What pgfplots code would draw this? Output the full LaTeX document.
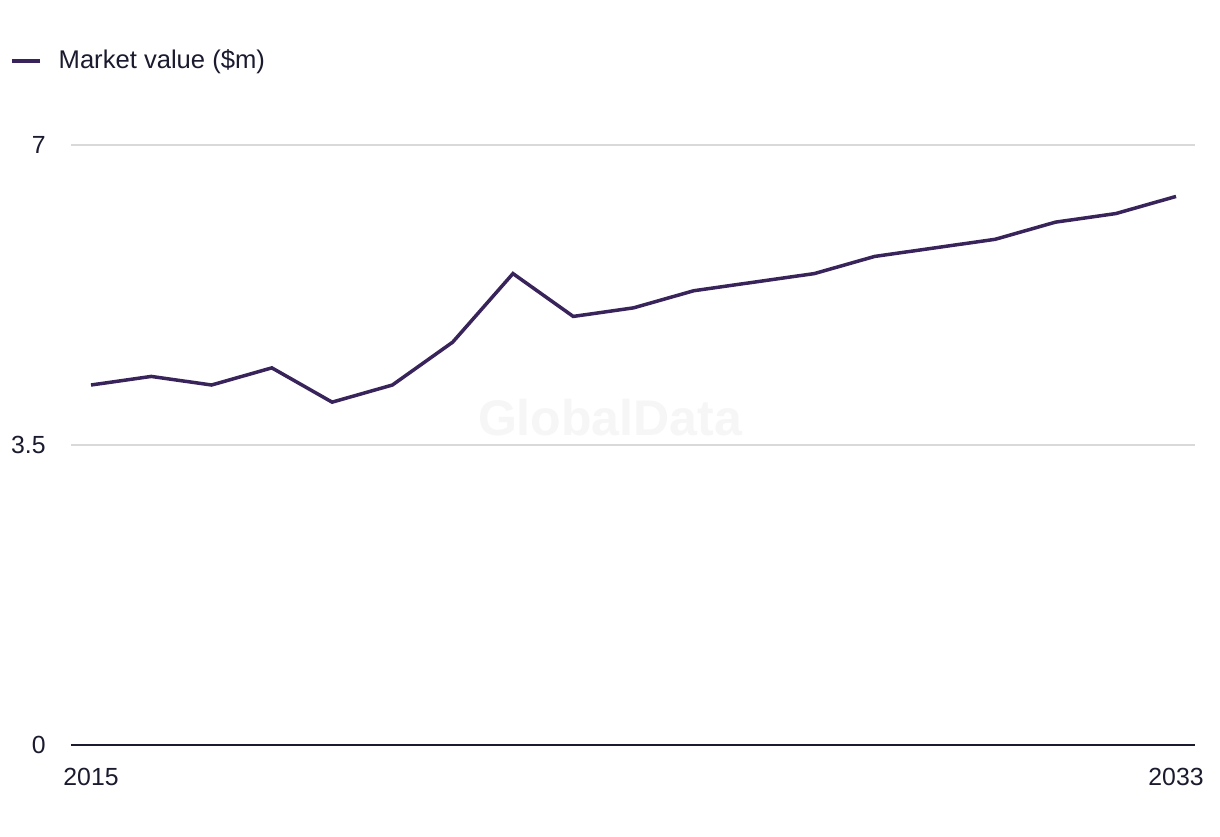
\documentclass[border=0pt]{standalone}
\usepackage{pgfplots}
\pgfplotsset{compat=1.18}
\usepackage{fontspec}
\setmainfont{Liberation Sans}
\definecolor{linec}{HTML}{38245A}
\definecolor{textc}{HTML}{1B1B2F}
\definecolor{gridc}{HTML}{D9D9D9}
\definecolor{wmark}{HTML}{F6F6F6}
\begin{document}
\fontsize{12.4}{15}\selectfont
\begin{tikzpicture}[x=1pt,y=1pt]
\path[fill=white] (0,0) rectangle (610,418);
\begin{axis}[
  at={(35.5pt,45.5pt)}, anchor=south west,
  scale only axis, width=562pt, height=300pt,
  xmin=2014.668, xmax=2033.315,
  ymin=0, ymax=7,
  axis line style={draw=none},
  axis x line*=bottom,
  xtick={2015,2033},
  xticklabels={2015,2033},
  ytick={0,3.5,7},
  yticklabels={0,3.5,7},
  major tick length=0pt,
  ymajorgrids,
  grid style={gridc, line width=1pt},
  tick label style={text=textc, font=\fontsize{12.4}{15}\selectfont},
  yticklabel style={anchor=east, inner sep=0pt, xshift=-12.5pt},
  xticklabel style={anchor=north, inner sep=0pt, yshift=-11.5pt},
  /pgf/number format/assume math mode=true,
  clip=false,
  legend style={draw=none, fill=none, at={(-0.0545,1.14)}, anchor=west,
    inner sep=0pt, outer sep=0pt, nodes={inner sep=0pt, text=textc},
    font=\fontsize{12.8}{15}\selectfont},
  legend cell align=left,
  legend image code/.code={\draw[linec, line width=2.2pt] (0pt,0pt) -- (14pt,0pt); \path (22.5pt,0pt);},
]
\node[text=wmark, font=\bfseries\fontsize{25}{30}\selectfont] at (axis cs:2023.61,3.815) {GlobalData};
\draw[textc, line width=1.3pt] (rel axis cs:0,0) -- (rel axis cs:1,0);
\addplot[linec, line width=1.75pt, mark=none] coordinates {
(2015,4.2) (2016,4.3) (2017,4.2) (2018,4.4) (2019,4.0) (2020,4.2)
(2021,4.7) (2022,5.5) (2023,5.0) (2024,5.1) (2025,5.3) (2026,5.4)
(2027,5.5) (2028,5.7) (2029,5.8) (2030,5.9) (2031,6.1) (2032,6.2) (2033,6.4)
};
\addlegendentry{Market value (\$m)}
\end{axis}
\end{tikzpicture}
\end{document}
